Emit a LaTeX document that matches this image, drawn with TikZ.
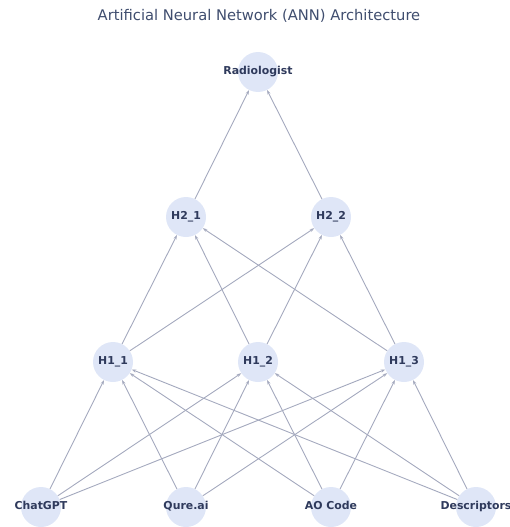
\documentclass[tikz,border=0pt]{standalone}
\usepackage{fontspec}
\setmainfont{DejaVu Sans}
\usetikzlibrary{arrows.meta}
\definecolor{nodefill}{HTML}{DFE6F7}
\definecolor{edgecol}{HTML}{A4A9BE}
\definecolor{labcol}{HTML}{2F3A5C}
\definecolor{titlecol}{HTML}{3F4D6E}
\tikzset{
  neuron/.style={circle, fill=nodefill, draw=none, minimum size=40pt, inner sep=0pt},
  lab/.style={font=\fontsize{10.9}{12}\selectfont\bfseries, text=labcol, text height=8pt, text depth=2.4pt, inner sep=0pt},
  conn/.style={draw=edgecol, line width=0.9pt, -{Stealth[length=4.5pt,width=3.2pt]}}
}
\begin{document}
\begin{tikzpicture}[x=1pt,y=-1pt]
\useasboundingbox (0,0) rectangle (510,527);
\node[font=\fontsize{14.7}{17}\selectfont, text=titlecol] (title) at (259,16) {Artificial Neural Network (ANN) Architecture};
\node[neuron, label={[lab]center:Radiologist}] (R) at (258,72) {};
\node[neuron, label={[lab]center:H2\_1}] (H21) at (186,217) {};
\node[neuron, label={[lab]center:H2\_2}] (H22) at (331,217) {};
\node[neuron, label={[lab]center:H1\_1}] (H11) at (113,362) {};
\node[neuron, label={[lab]center:H1\_2}] (H12) at (258,362) {};
\node[neuron, label={[lab]center:H1\_3}] (H13) at (404,362) {};
\node[neuron, label={[lab]center:ChatGPT}] (I1) at (41,507) {};
\node[neuron, label={[lab]center:Qure.ai}] (I2) at (186,507) {};
\node[neuron, label={[lab]center:AO Code}] (I3) at (331,507) {};
\node[neuron, label={[lab]center:Descriptors}] (I4) at (476,507) {};
\foreach \i in {I1,I2,I3,I4}{
  \foreach \h in {H11,H12,H13}{
    \draw[conn] (\i) -- (\h);
  }
}
\foreach \i in {H11,H12,H13}{
  \foreach \h in {H21,H22}{
    \draw[conn] (\i) -- (\h);
  }
}
\draw[conn] (H21) -- (R);
\draw[conn] (H22) -- (R);
\end{tikzpicture}
\end{document}
